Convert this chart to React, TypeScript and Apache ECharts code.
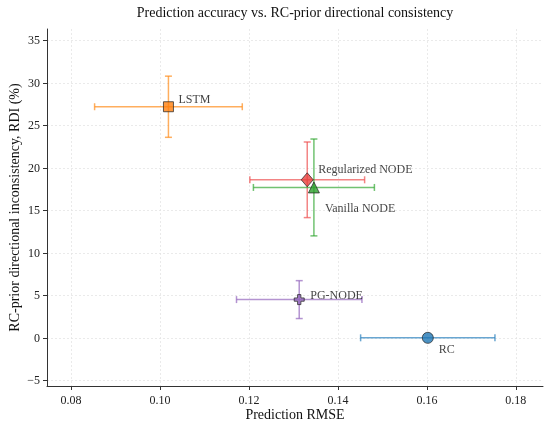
import React, { useEffect, useRef } from "react";
import * as echarts from "echarts";

const models = ["RC", "LSTM", "Regularized NODE", "Vanilla NODE", "PG-NODE"];
const rmse = [0.1602, 0.1019, 0.1331, 0.1346, 0.1313];
const rmseErr = [0.0151, 0.0166, 0.0129, 0.0136, 0.0141];
const rdi = [0, 27.2, 18.6, 17.7, 4.5];
const rdiErr = [0, 3.6, 4.45, 5.7, 2.23];
const xTicks = [0.08, 0.1, 0.12, 0.14, 0.16, 0.18];
const yTicks = [-5, 0, 5, 10, 15, 20, 25, 30, 35];

const colors = ["#1f77b4", "#ff7f0e", "#e8413f", "#2ca02c", "#9467bd"];
const errColors = ["#2a80bd", "#ff8c1a", "#ee5050", "#35a835", "#9467bd"];
const symbols = [
  "circle",
  "rect",
  "diamond",
  "triangle",
  "path://M4,0H8V4H12V8H8V12H4V8H0V4H4Z",
];
const sizes = [11, 10, [12, 14], 11, 10];
const labelOffsets = [
  [11, 11],
  [10, -8],
  [11, -11],
  [11, 21],
  [11, -5],
];

const FONT = "'Liberation Serif', 'DejaVu Serif', serif";

export default function App() {
  const ref = useRef<HTMLDivElement>(null);
  useEffect(() => {
    document.body.style.margin = "0";
    const chart = echarts.init(ref.current!, null, { renderer: "svg" });
    const errData = models.map((_, i) => [rmse[i], rdi[i], rmseErr[i], rdiErr[i], i]);
    const renderItem = (params: any, api: any) => {
      const x = api.value(0);
      const y = api.value(1);
      const ex = api.value(2);
      const ey = api.value(3);
      const idx = api.value(4);
      const l = api.coord([x - ex, y]);
      const r = api.coord([x + ex, y]);
      const t = api.coord([x, y + ey]);
      const b = api.coord([x, y - ey]);
      const cap = 3.5;
      const style = { stroke: errColors[idx], lineWidth: 1.5, opacity: 0.7 };
      const children: any[] = [
        { type: "line", shape: { x1: l[0], y1: l[1], x2: r[0], y2: r[1] }, style },
        { type: "line", shape: { x1: l[0], y1: l[1] - cap, x2: l[0], y2: l[1] + cap }, style },
        { type: "line", shape: { x1: r[0], y1: r[1] - cap, x2: r[0], y2: r[1] + cap }, style },
      ];
      if (ey > 0) {
        children.push(
          { type: "line", shape: { x1: t[0], y1: t[1], x2: b[0], y2: b[1] }, style },
          { type: "line", shape: { x1: t[0] - cap, y1: t[1], x2: t[0] + cap, y2: t[1] }, style },
          { type: "line", shape: { x1: b[0] - cap, y1: b[1], x2: b[0] + cap, y2: b[1] }, style }
        );
      }
      return { type: "group", children };
    };

    const scatterSeries = models.map((name, i) => ({
      type: "scatter",
      name,
      z: 5 + i,
      symbol: symbols[i],
      symbolSize: sizes[i],
      itemStyle: { color: colors[i], borderColor: "#222", borderWidth: 0.9 },
      data: [[rmse[i], rdi[i]]],
      label: {
        show: true,
        formatter: name,
        position: "inside",
        align: "left",
        verticalAlign: "middle",
        offset: labelOffsets[i],
        color: "#111",
        fontFamily: FONT,
        fontSize: 12,
      },
      emphasis: { disabled: true },
    }));

    const gridLine = { show: true, lineStyle: { color: "#e4e4e4", type: [2, 2], width: 0.8 } };

    chart.setOption({
      animation: false,
      textStyle: { fontFamily: FONT },
      grid: { left: 47, top: 29, width: 496, height: 357, containLabel: false, outerBoundsMode: "none" },
      graphic: [
        {
          type: "text",
          x: 295,
          y: 12,
          style: {
            text: "Prediction accuracy vs. RC-prior directional consistency",
            textAlign: "center",
            textVerticalAlign: "middle",
            fontFamily: FONT,
            fontSize: 14,
            fill: "#111",
          },
        },
      ],
      xAxis: {
        type: "value",
        min: 0.0746,
        max: 0.1861,
        name: "Prediction RMSE",
        nameLocation: "middle",
        nameGap: 21,
        nameMoveOverlap: false,
        nameTextStyle: { fontFamily: FONT, fontSize: 14, color: "#111" },
        axisLine: { show: true, onZero: false, lineStyle: { color: "#333", width: 1 } },
        axisTick: { show: true, length: 4, customValues: xTicks, lineStyle: { color: "#333" } },
        axisLabel: {
          customValues: xTicks,
          formatter: (v: number) => v.toFixed(2),
          fontFamily: FONT,
          fontSize: 12,
          color: "#222",
          margin: 8,
          showMinLabel: true,
          showMaxLabel: true,
        },
        splitLine: { ...gridLine, customValues: xTicks },
      },
      yAxis: {
        type: "value",
        min: -5.67,
        max: 36.35,
        name: "RC-prior directional inconsistency, RDI (%)",
        nameLocation: "middle",
        nameGap: 26,
        nameMoveOverlap: false,
        nameTextStyle: { fontFamily: FONT, fontSize: 14, color: "#111" },
        axisLine: { show: true, onZero: false, lineStyle: { color: "#333", width: 1 } },
        axisTick: { show: true, length: 4, customValues: yTicks, lineStyle: { color: "#333" } },
        axisLabel: {
          customValues: yTicks,
          formatter: (v: number) => (v < 0 ? "\u2212" + Math.abs(v) : String(v)),
          fontFamily: FONT,
          fontSize: 12,
          color: "#222",
          margin: 7,
        },
        splitLine: { ...gridLine, customValues: yTicks },
      },
      series: [
        {
          type: "custom",
          renderItem,
          data: errData,
          encode: { x: 0, y: 1 },
          clip: false,
          z: 2,
          silent: true,
        },
        ...scatterSeries,
      ],
    });
    return () => chart.dispose();
  }, []);
  return <div ref={ref} style={{ position: "fixed", left: 0, top: 0, width: 550, height: 427 }} />;
}
